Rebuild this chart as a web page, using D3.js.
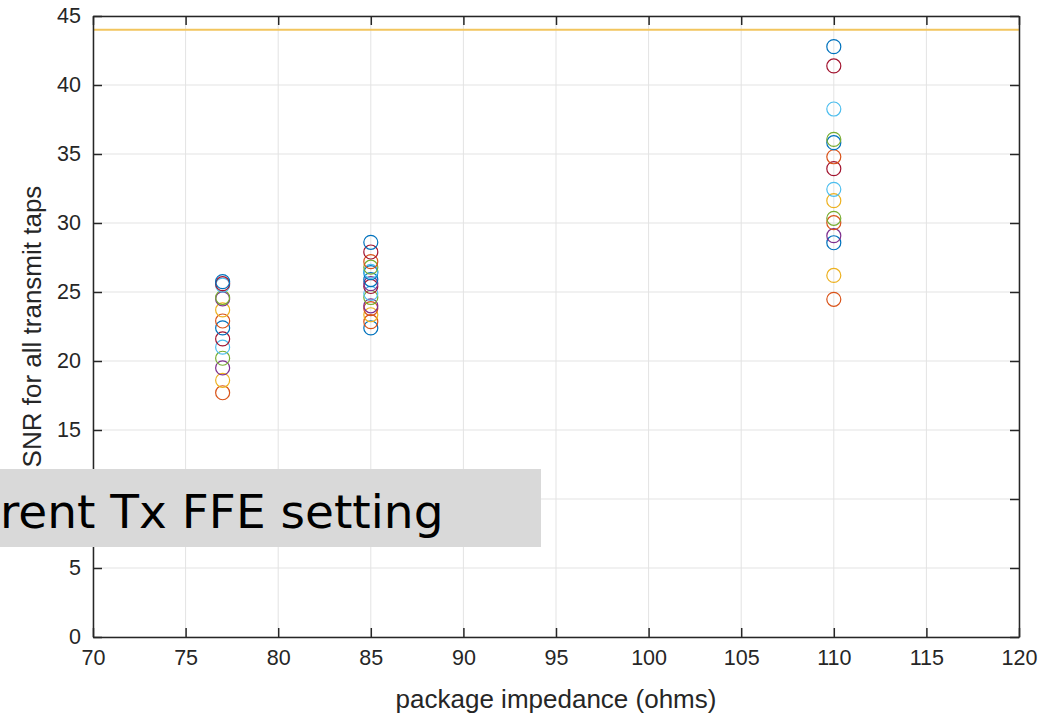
<!DOCTYPE html>
<html><head><meta charset="utf-8">
<script src="https://cdn.jsdelivr.net/npm/d3@7"></script>
<style>body{margin:0;background:#fff}svg{display:block}</style>
</head><body>
<svg id="c" width="1059" height="715"></svg>
<script>
const xTicks = [70,75,80,85,90,95,100,105,110,115,120];
const yTicks = [0,5,10,15,20,25,30,35,40,45];
const limitLine = 44;
const imp77 = [17.7,18.6,19.5,20.2,21.0,21.6,22.4,22.9,23.7,24.5,24.6,25.5,25.6,25.75];
const col77 = ["orange","yellow","purple","green","lightblue","darkred","blue","orange","yellow","purple","green","lightblue","darkred","blue"];
const imp85 = [22.4,22.85,23.35,23.8,24.0,24.6,24.9,25.4,25.6,25.9,26.4,26.5,26.8,27.2,27.9,28.6];
const col85 = ["blue","orange","yellow","orange","purple","green","lightblue","darkred","purple","blue","blue","lightblue","green","orange","darkred","blue"];
const imp110 = [24.47,26.2,28.57,29.08,30.02,30.34,31.62,32.44,33.94,34.8,35.82,36.06,38.26,41.38,42.78];
const col110 = ["orange","yellow","blue","purple","orange","green","yellow","lightblue","darkred","orange","blue","green","lightblue","darkred","blue"];
const palette = {blue:"#0072BD",orange:"#D95319",yellow:"#EDB120",purple:"#7E2F8E",green:"#77AC30",lightblue:"#4DBEEE",darkred:"#A2142F"};

const groups = [{x:77,v:imp77,c:col77},{x:85,v:imp85,c:col85},{x:110,v:imp110,c:col110}];
const pts = [];
groups.forEach(g=>g.v.forEach((v,i)=>pts.push({x:g.x,y:v,c:g.c[i]})));

const svg = d3.select("#c");
const L=93,R=1019,T=16,B=637;
const x = d3.scaleLinear().domain([70,120]).range([L,R]);
const y = d3.scaleLinear().domain([0,45]).range([B,T]);
const font = "'Liberation Sans', Arial, sans-serif";
const dark = "#262626";

// grid
svg.append("g").selectAll("line").data(xTicks).join("line")
  .attr("x1",d=>x(d)).attr("x2",d=>x(d)).attr("y1",T).attr("y2",B)
  .attr("stroke","#e3e3e3").attr("stroke-width",1);
svg.append("g").selectAll("line").data(yTicks).join("line")
  .attr("y1",d=>y(d)).attr("y2",d=>y(d)).attr("x1",L).attr("x2",R)
  .attr("stroke","#e3e3e3").attr("stroke-width",1);

// limit line
svg.append("line").attr("x1",L).attr("x2",R).attr("y1",y(limitLine)).attr("y2",y(limitLine))
  .attr("stroke","#f2c55e").attr("stroke-width",2);

// points
svg.append("g").selectAll("circle").data(pts).join("circle")
  .attr("cx",d=>x(d.x)).attr("cy",d=>y(d.y)).attr("r",7)
  .attr("fill","none").attr("stroke",d=>palette[d.c]).attr("stroke-width",1.2);

// axes
const tl = 9;
const xb = d3.axisBottom(x).tickValues(xTicks).tickSizeInner(-tl).tickSizeOuter(0).tickPadding(13);
const xt = d3.axisTop(x).tickValues(xTicks).tickSizeInner(-tl).tickSizeOuter(0).tickFormat("");
const yl = d3.axisLeft(y).tickValues(yTicks).tickSizeInner(-tl).tickSizeOuter(0).tickPadding(12);
const yr = d3.axisRight(y).tickValues(yTicks).tickSizeInner(-tl).tickSizeOuter(0).tickFormat("");
function style(g){
  g.selectAll("path").attr("stroke",dark).attr("stroke-width",1.5);
  g.selectAll("line").attr("stroke",dark).attr("stroke-width",1.5);
  g.selectAll("text").attr("fill",dark).style("font-family",font).style("font-size","21.5px");
}
svg.append("g").attr("transform",`translate(0,${B})`).call(xb).call(style);
svg.append("g").attr("transform",`translate(0,${T})`).call(xt).call(style);
svg.append("g").attr("transform",`translate(${L},0)`).call(yl).call(style);
svg.append("g").attr("transform",`translate(${R},0)`).call(yr).call(style);

// labels
svg.append("text").attr("x",(L+R)/2).attr("y",708).attr("text-anchor","middle")
  .style("font-family",font).style("font-size","26px").attr("fill",dark)
  .text("package impedance (ohms)");
svg.append("text").attr("transform",`translate(41,${(T+B)/2}) rotate(-90)`).attr("text-anchor","middle")
  .style("font-family",font).style("font-size","26px").attr("fill",dark)
  .text("SNR for all transmit taps");

// overlay box
svg.append("rect").attr("x",0).attr("y",469).attr("width",541).attr("height",78).attr("fill","#d9d9d9");
svg.append("text").attr("x",0).attr("y",528)
  .style("font-family","'DejaVu Sans', Verdana, sans-serif").style("font-size","47px").attr("fill","#000")
  .text("rent Tx FFE setting");
</script>
</body></html>
